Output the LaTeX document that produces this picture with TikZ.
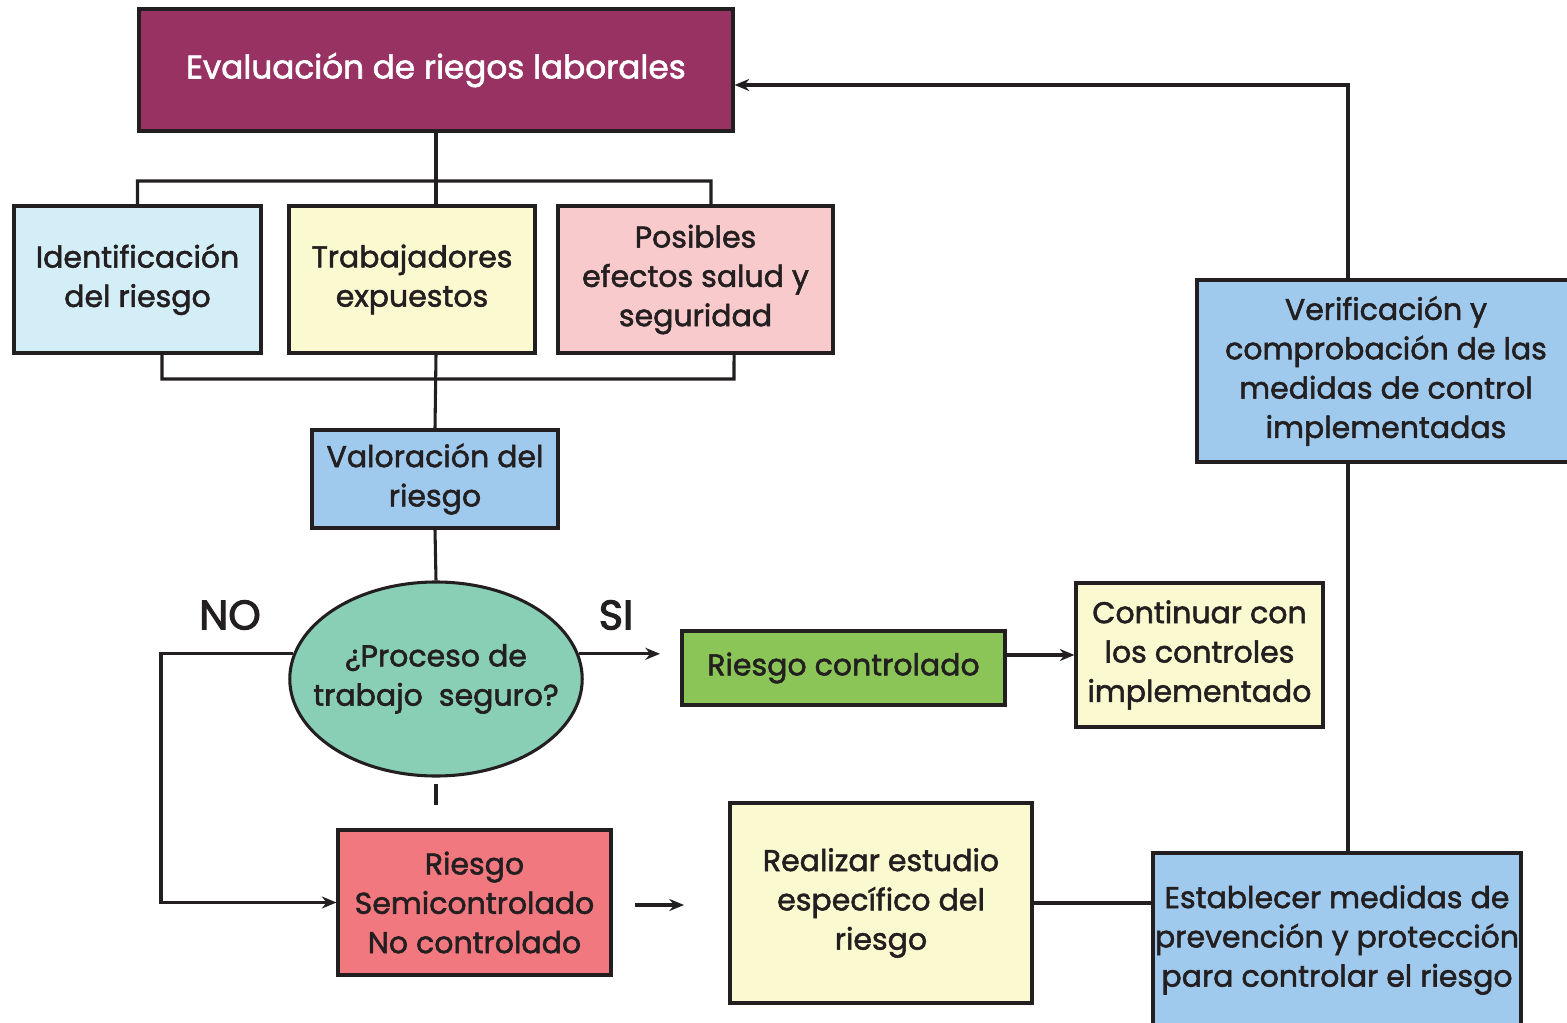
\documentclass[tikz,border=0pt]{standalone}
\usepackage{fontspec}
\setmainfont{Poppins}[FakeBold=1.8]
\newfontfamily\tagfont{Poppins}[FakeBold=2.6]
\usetikzlibrary{arrows.meta,shapes.geometric}

\definecolor{inkdark}{RGB}{35,31,32}
\definecolor{evalpurple}{RGB}{152,50,99}
\definecolor{palecyan}{RGB}{211,238,247}
\definecolor{paleyellow}{RGB}{251,249,207}
\definecolor{palepink}{RGB}{249,202,203}
\definecolor{skyblue}{RGB}{159,202,237}
\definecolor{mintgreen}{RGB}{136,207,182}
\definecolor{leafgreen}{RGB}{139,197,87}
\definecolor{salmonred}{RGB}{242,120,128}

\tikzset{every picture/.style={line width=0.75pt}}

\begin{document}
\begin{tikzpicture}[x=0.75pt,y=0.75pt,yscale=-1,xscale=1,
  box/.style={draw=inkdark, line width=2.3pt, inner sep=0pt, align=center,
    text=inkdark, font=\fontsize{22.5}{29.5}\selectfont},
  link/.style={draw=inkdark, line width=2.3pt},
  arr/.style={link, -{Stealth[length=11pt,width=9pt]}},
  tag/.style={inner sep=0pt, text=inkdark, font=\tagfont\fontsize{31}{32}\selectfont}]
\useasboundingbox (0,0) rectangle (1567,1023);
\clip (0,0) rectangle (1567,1023);

%Shape: Rectangle
\node [box, fill=evalpurple, text=white, minimum width=445.5pt, minimum height=91.5pt,
  font=\fontsize{24.5}{30}\selectfont] (eval) at (436,70) {Evaluación de riegos laborales};
%Shape: Rectangle
\node [box, fill=palecyan, minimum width=185.25pt, minimum height=110.25pt] (ident) at (137.5,279.5) {Identificación\\del riesgo};
%Shape: Rectangle
\node [box, fill=paleyellow, minimum width=184.5pt, minimum height=110.25pt] (trab) at (412,279.5) {Trabajadores\\expuestos};
%Shape: Rectangle
\node [box, fill=palepink, minimum width=206.25pt, minimum height=110.25pt] (posib) at (695.5,279.5) {Posibles\\efectos salud y\\seguridad};
%Shape: Rectangle
\node [box, fill=skyblue, minimum width=184.5pt, minimum height=73.5pt] (valor) at (435,479) {Valoración del\\riesgo};
%Shape: Ellipse
\node [box, ellipse, fill=mintgreen, inner xsep=-14.5pt, minimum height=145.5pt] (proc) at (436,679) {¿Proceso de\\trabajo\ \ seguro?};
%Shape: Rectangle
\node [box, fill=leafgreen, minimum width=242.25pt, minimum height=55.5pt] (rcontrol) at (843.5,668) {Riesgo controlado};
%Shape: Rectangle
\node [box, fill=paleyellow, minimum width=185.25pt, minimum height=108pt] (contin) at (1199.5,655) {Continuar con\\los controles\\implementado};
%Shape: Rectangle
\node [box, fill=salmonred, minimum width=204.75pt, minimum height=108.75pt] (semi) at (474.5,902.5) {Riesgo\\Semicontrolado\\No controlado};
%Shape: Rectangle
\node [box, fill=paleyellow, minimum width=226.5pt, minimum height=150pt] (realiz) at (881,903) {Realizar estudio\\específico del\\riesgo};
%Shape: Rectangle
\node [box, fill=skyblue, minimum width=276pt, minimum height=130.5pt] (estab) at (1337,940) {Establecer medidas de\\prevención y protección\\para controlar el riesgo};
%Shape: Rectangle
\node [box, fill=skyblue, minimum width=283.5pt, minimum height=136.5pt] (verif) at (1386,371) {Verificación y\\comprobación de las\\medidas de control\\implementadas};

% Text Node
\node [tag] (no) at (230,615) {NO};
% Text Node
\node [tag] (si) at (616,615) {SI};

\coordinate (stub) at (436,805);
\coordinate (nobend) at (161,655);
\coordinate (siend) at (660,655);
\coordinate (gapstart) at (635,905);
\coordinate (gapend) at (684,905);

%Straight Lines
\draw [link] (eval.south) -- (eval.south |- trab.north);
\draw [link] (ident.north) |- (711,181) -- ([xshift=11.6pt]posib.north);
\draw [link] (ident.south -| 162,0) |- (734,379) -- ([xshift=28.9pt]posib.south);
\draw [link] (eval.south |- trab.south) -- (valor.north);
\draw [link] (valor.south) -- (proc.north);
\draw [link] ([yshift=4.5pt]proc.south) -- (stub);
%Arrows
\draw [arr] (proc.170) -- (nobend |- proc.170) |- (semi.west);
\draw [arr] (proc.10) -- (proc.10 -| siend);
\draw [arr] (rcontrol.east |- contin.west) -- (contin.west);
\draw [arr] (gapstart) -- (gapend);
\draw [link] (realiz.east) -- (realiz.east -| estab.west);
\draw [link] ([xshift=8.25pt]estab.north) -- ([xshift=8.25pt]estab.north |- verif.south);
\draw [arr] ([xshift=-28.5pt]verif.north) |- ([yshift=11.25pt]eval.east);
\end{tikzpicture}
\end{document}
